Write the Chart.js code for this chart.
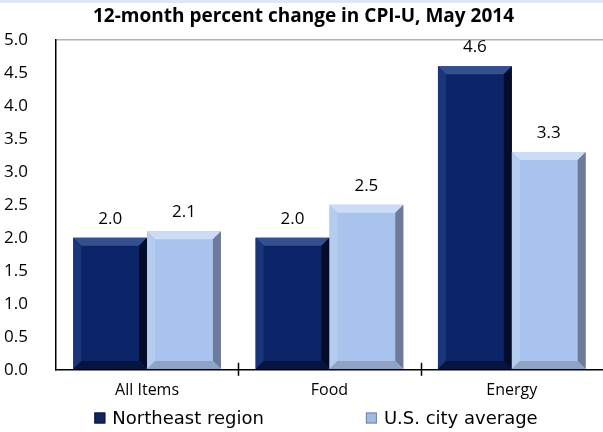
<!DOCTYPE html>
<html>
<head>
<meta charset="utf-8">
<script src="https://cdn.jsdelivr.net/npm/chart.js@4.4.1/dist/chart.umd.min.js"></script>
<style>
  html, body { margin: 0; padding: 0; background: #fff; }
  #wrap { width: 603px; height: 432px; position: relative; }
</style>
</head>
<body>
<div id="wrap"><canvas id="chart01" width="603" height="432"></canvas></div>
<script>
// データ
var categories = ["All Items", "Food", "Energy"];
var northeast = [2.0, 2.0, 4.6];   // Northeast region
var usAverage = [2.1, 2.5, 3.3];   // U.S. city average
var yTicks = [0.0, 0.5, 1.0, 1.5, 2.0, 2.5, 3.0, 3.5, 4.0, 4.5, 5.0];

var FONT = "'Open Sans', 'Liberation Sans', sans-serif";
var LEGEND_FONT = "'DejaVu Sans', sans-serif";

// 棒の立体（ベベル）風の描画、値ラベル、凡例
var bevelPlugin = {
  id: 'bevel',
  beforeDraw: function (chart) {
    var ctx = chart.ctx;
    ctx.save();
    ctx.fillStyle = '#dde7f6'; // 上端の薄い帯
    ctx.fillRect(0, 0, chart.width, 3);
    ctx.restore();
  },
  afterDatasetsDraw: function (chart) {
    var ctx = chart.ctx;
    chart.data.datasets.forEach(function (dataset, i) {
      var meta = chart.getDatasetMeta(i);
      if (meta.hidden) return;
      meta.data.forEach(function (bar, index) {
        var left = bar.x - bar.width / 2;
        var right = bar.x + bar.width / 2;
        var top = bar.y;
        var bottom = bar.base;
        var b = 8; // ベベル幅
        ctx.save();
        // 上面
        ctx.fillStyle = dataset.bevelTop;
        ctx.beginPath();
        ctx.moveTo(left, top); ctx.lineTo(right, top);
        ctx.lineTo(right - b, top + b); ctx.lineTo(left + b, top + b);
        ctx.closePath(); ctx.fill();
        // 左面
        ctx.fillStyle = dataset.bevelLeft;
        ctx.beginPath();
        ctx.moveTo(left, top); ctx.lineTo(left + b, top + b);
        ctx.lineTo(left + b, bottom - b); ctx.lineTo(left, bottom);
        ctx.closePath(); ctx.fill();
        // 右面
        ctx.fillStyle = dataset.bevelRight;
        ctx.beginPath();
        ctx.moveTo(right, top); ctx.lineTo(right - b, top + b);
        ctx.lineTo(right - b, bottom - b); ctx.lineTo(right, bottom);
        ctx.closePath(); ctx.fill();
        // 下面
        ctx.fillStyle = dataset.bevelBottom;
        ctx.beginPath();
        ctx.moveTo(left, bottom); ctx.lineTo(left + b, bottom - b);
        ctx.lineTo(right - b, bottom - b); ctx.lineTo(right, bottom);
        ctx.closePath(); ctx.fill();
        ctx.restore();

        // 値の表示
        ctx.save();
        ctx.fillStyle = '#000';
        ctx.font = '17px ' + FONT;
        ctx.textAlign = 'center';
        ctx.textBaseline = 'middle';
        ctx.fillText(dataset.data[index].toFixed(1), bar.x, top - 19);
        ctx.restore();
      });
    });
    // X軸の目盛り線（軸をまたぐ）
    var xs = chart.scales.x;
    ctx.save();
    ctx.strokeStyle = '#000';
    ctx.lineWidth = 1.5;
    for (var k = 1; k < categories.length; k++) {
      var px = Math.round((xs.getPixelForTick(k - 1) + xs.getPixelForTick(k)) / 2) + 0.5;
      ctx.beginPath();
      ctx.moveTo(px, xs.top - 7);
      ctx.lineTo(px, xs.top + 6);
      ctx.stroke();
    }
    ctx.restore();
  },
  afterDraw: function (chart) {
    // 凡例（項目間を広く取る）
    var ctx = chart.ctx;
    var fills = ['#12245a', '#a2b9e0'];
    var strokes = ['#0a1740', '#6f84a8'];
    var box = 11, gapText = 7, gapItem = 102, cy = 418, cx = 316;
    ctx.save();
    ctx.font = '18px ' + LEGEND_FONT;
    var widths = chart.data.datasets.map(function (ds) { return ctx.measureText(ds.label).width; });
    var total = (box + gapText) * widths.length + widths.reduce(function (a, b) { return a + b; }, 0) + gapItem * (widths.length - 1);
    var x = cx - total / 2;
    chart.data.datasets.forEach(function (ds, i) {
      ctx.fillStyle = fills[i];
      ctx.fillRect(x, cy - box / 2, box, box);
      ctx.strokeStyle = strokes[i];
      ctx.lineWidth = 1;
      ctx.strokeRect(x + 0.5, cy - box / 2 + 0.5, box - 1, box - 1);
      ctx.fillStyle = '#000';
      ctx.textAlign = 'left';
      ctx.textBaseline = 'middle';
      ctx.fillText(ds.label, x + box + gapText, cy + 1);
      x += box + gapText + widths[i] + gapItem;
    });
    ctx.restore();
  }
};

var ctx = document.getElementById("chart01");
var chart = new Chart(ctx, {
  type: 'bar',
  data: {
    labels: categories,
    datasets: [{
      label: "Northeast region",
      backgroundColor: "#0b2568",
      bevelTop: "#34508f",
      bevelLeft: "#1a3579",
      bevelRight: "#030c2a",
      bevelBottom: "#061540",
      data: northeast
    }, {
      label: "U.S. city average",
      backgroundColor: "#a8c3ee",
      bevelTop: "#cddcf5",
      bevelLeft: "#b6ccef",
      bevelRight: "#6c7c98",
      bevelBottom: "#8ea3c6",
      data: usAverage
    }]
  },
  options: {
    responsive: false,
    animation: false,
    categoryPercentage: 0.81,
    barPercentage: 1.0,
    layout: { padding: { left: 4, right: 0, top: 0, bottom: 21 } },
    plugins: {
      title: {
        display: true,
        text: '12-month percent change in CPI-U, May 2014',
        color: '#000',
        font: { family: FONT, size: 19, weight: 'bold' },
        padding: { top: 5, bottom: 12 }
      },
      legend: { display: false },
      tooltip: { enabled: false }
    },
    scales: {
      x: {
        grid: { display: false, drawOnChartArea: false, drawTicks: false },
        border: { display: true, color: '#000', width: 1.5 },
        ticks: { color: '#000', font: { family: FONT, size: 16 }, padding: 11 }
      },
      y: {
        min: 0,
        max: 5,
        afterBuildTicks: function (scale) {
          scale.ticks = yTicks.map(function (v) { return { value: v }; });
        },
        grid: {
          drawTicks: false,
          color: function (c) { return c.tick && c.tick.value === 5 ? '#b4b4b4' : 'rgba(0,0,0,0)'; },
          lineWidth: 1.5
        },
        border: { display: true, color: '#000', width: 1.5 },
        ticks: {
          color: '#000',
          font: { family: FONT, size: 17 },
          padding: 14,
          crossAlign: 'far',
          callback: function (v) { return Number(v).toFixed(1); }
        }
      }
    }
  },
  plugins: [bevelPlugin]
});
</script>
</body>
</html>
